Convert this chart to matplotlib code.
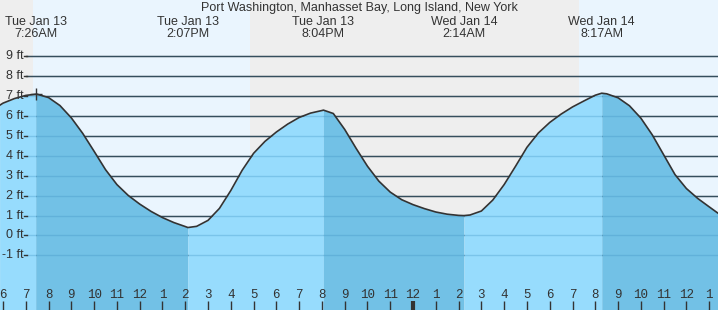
import numpy as np
import matplotlib.pyplot as plt
from matplotlib.transforms import blended_transform_factory

title = "Port Washington, Manhasset Bay, Long Island, New York"

# hours counted from Tue Jan 13 00:00, heights in ft
tide_hours = [5.85, 6.0, 6.5, 7.0, 7.433,
              7.5, 8.0, 8.5, 9.0, 9.5, 10.0, 10.5, 11.0, 11.5, 12.0, 12.5, 13.0, 13.5, 14.0, 14.117,
              14.5, 15.0, 15.5, 16.0, 16.5, 17.0, 17.5, 18.0, 18.5, 19.0, 19.5, 20.0, 20.067,
              20.5, 21.0, 21.5, 22.0, 22.5, 23.0, 23.5, 24.0, 24.5, 25.0, 25.5, 26.0, 26.233,
              26.5, 27.0, 27.5, 28.0, 28.5, 29.0, 29.5, 30.0, 30.5, 31.0, 31.5, 32.0, 32.283,
              32.5, 33.0, 33.5, 34.0, 34.5, 35.0, 35.5, 36.0, 36.5, 37.0, 37.4]
tide_ft = [6.54, 6.65, 6.88, 7.04, 7.1,
           7.1, 6.93, 6.53, 5.91, 5.13, 4.23, 3.31, 2.56, 2.01, 1.58, 1.21, 0.9, 0.65, 0.45, 0.4,
           0.46, 0.76, 1.36, 2.26, 3.28, 4.13, 4.73, 5.2, 5.6, 5.93, 6.15, 6.28, 6.3,
           6.13, 5.33, 4.38, 3.48, 2.73, 2.18, 1.8, 1.55, 1.35, 1.18, 1.07, 1.01, 1.0,
           1.03, 1.23, 1.78, 2.56, 3.48, 4.43, 5.15, 5.68, 6.1, 6.46, 6.76, 7.05, 7.15,
           7.12, 6.92, 6.52, 5.9, 5.06, 4.06, 3.06, 2.36, 1.86, 1.44, 1.11]

extreme_hours = [7.433, 14.117, 20.067, 26.233, 32.283]
extreme_labels = ["Tue Jan 13\n7:26AM", "Tue Jan 13\n2:07PM", "Tue Jan 13\n8:04PM",
                  "Wed Jan 14\n2:14AM", "Wed Jan 14\n8:17AM"]

# daylight periods
day_start = [7.32, 31.29]
day_end = [16.84, 40.0]

ft_ticks = [-1, 0, 1, 2, 3, 4, 5, 6, 7, 8, 9]
hour_ticks = list(range(6, 38))
hour_labels = ["6", "7", "8", "9", "10", "11", "12", "1", "2", "3", "4", "5", "6", "7", "8", "9",
               "10", "11", "12", "1", "2", "3", "4", "5", "6", "7", "8", "9", "10", "11", "12", "1"]
midnight = 24

x0, x1 = 5.868, 37.387
y0, y1 = -3.744, 11.834

light_water = '#97dcfd'
dark_water = '#72c1e6'

fig = plt.figure(figsize=(7.18, 3.10), dpi=100)
ax = fig.add_axes([0, 0, 1, 1])
ax.set_xlim(x0, x1)
ax.set_ylim(y0, y1)
ax.axis('off')
ax.add_patch(plt.Rectangle((0, 0), 1, 1, transform=ax.transAxes, color='#eeeeee', zorder=0))

for a, b in zip(day_start, day_end):
    ax.axvspan(a, b, color='#eaf5fe', zorder=0.5, lw=0)

for v in ft_ticks:
    ax.axhline(v, xmin=26 / 718, color='#333333', lw=1.0, zorder=1)

t = np.array(tide_hours)
h = np.array(tide_ft)
bounds = [t[0]] + extreme_hours + [t[-1]]
for i in range(len(bounds) - 1):
    col = light_water if i % 2 == 0 else dark_water
    m = (t >= bounds[i]) & (t <= bounds[i + 1])
    ax.fill_between(t[m], y0, h[m], color=col, lw=0, zorder=2)

for v in ft_ticks:
    ax.axhline(v, xmin=26 / 718, color='#3a8fc0', lw=1.0, alpha=0.3, zorder=3)

ax.plot(t, h, color='#333333', lw=1.2, zorder=4)
ax.plot(extreme_hours[0], tide_ft[4], marker='+', color='#333333', ms=8, mew=1, zorder=5)

font = 'Liberation Sans'
tc = '#333333'
fx = blended_transform_factory(fig.transFigure, ax.transData)
for v in ft_ticks:
    ax.text(24 / 718, v, f"{v} ft", transform=fx, ha='right', va='center',
            family=font, fontsize=9, color=tc, zorder=6)
    ax.plot([24 / 718, 27 / 718], [v, v], transform=fx, color='#333333', lw=1, zorder=6)

xf = blended_transform_factory(ax.transData, fig.transFigure)
for hr, lab in zip(hour_ticks, hour_labels):
    lw = 3 if hr == midnight else 1
    ax.plot([hr, hr], [0, 9 / 310], transform=xf, color='#333333', lw=lw, zorder=6,
            solid_capstyle='butt')
    ax.text(hr, 1 - 295 / 310, lab, transform=xf, ha='center', va='center',
            family='Liberation Mono', fontsize=9, color=tc, zorder=6)

for hr, lab in zip(extreme_hours, extreme_labels):
    ax.text(hr, 1 - 28 / 310, lab, transform=xf, ha='center', va='center',
            family=font, fontsize=9, color=tc, linespacing=1.0, zorder=6)

fig.text(0.5, 1 - 8 / 310, title, ha='center', va='center', family=font, fontsize=9, color=tc)

fig.savefig('out.png', dpi=100)
